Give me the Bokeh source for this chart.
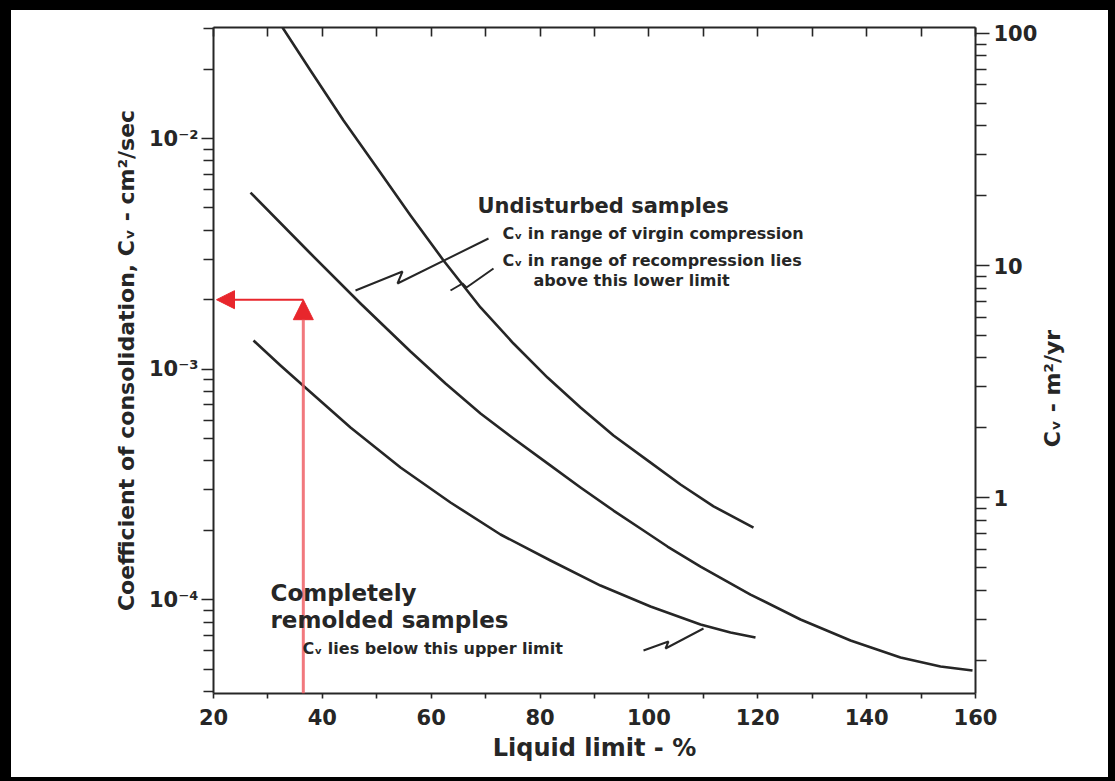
import math
from bokeh.plotting import figure
from bokeh.models import (LogAxis, LinearAxis, Range1d, FixedTicker, Label,
                          Arrow, NormalHead, LogScale)
from bokeh.embed import file_html
from bokeh.resources import INLINE

# ---------------- data ----------------
# Undisturbed samples: Cv in range of virgin compression
virgin_ll = [32.68, 37.82, 43.89, 50.13, 56.20, 62.26, 69.06, 75.12, 81.37, 87.43,
             93.49, 99.74, 105.80, 111.87, 119.21]
virgin_cv = [3.03e-2, 1.972e-2, 1.197e-2, 7.41e-3, 4.64e-3, 2.96e-3, 1.851e-3, 1.291e-3,
             9.19e-4, 6.82e-4, 5.15e-4, 4.02e-4, 3.16e-4, 2.54e-4, 2.056e-4]

# Undisturbed samples: Cv in range of recompression lies above this lower limit
recomp_ll = [26.80, 37.82, 47.01, 56.20, 62.63, 69.06, 75.12, 81.37, 87.43, 93.49,
             98.45, 103.41, 109.48, 118.66, 127.85, 137.04, 146.22, 153.57, 159.45]
recomp_cv = [5.83e-3, 3.172e-3, 1.925e-3, 1.192e-3, 8.66e-4, 6.42e-4, 5.00e-4, 3.90e-4,
             3.066e-4, 2.436e-4, 2.036e-4, 1.701e-4, 1.393e-4, 1.053e-4, 8.21e-5,
             6.65e-5, 5.62e-5, 5.13e-5, 4.93e-5]

# Completely remolded samples: Cv lies below this upper limit
remold_ll = [27.35, 32.31, 37.27, 45.17, 54.36, 63.54, 72.73, 81.92, 91.10, 100.29,
             109.48, 114.99, 119.58]
remold_cv = [1.330e-3, 1.037e-3, 8.16e-4, 5.58e-4, 3.745e-4, 2.640e-4, 1.918e-4, 1.479e-4,
             1.152e-4, 9.35e-5, 7.81e-5, 7.21e-5, 6.86e-5]

# worked example (red arrows)
example_ll = 36.5
example_cv = 2.0e-3

# axes
x_min, x_max = 20, 160
x_major = [20, 40, 60, 80, 100, 120, 140, 160]
x_minor = [30, 50, 70, 90, 110, 130, 150]
cv_min, cv_max = 3.92e-5, 3.03e-2          # cm^2/sec
y_major = [1e-4, 1e-3, 1e-2]
y_labels = ["10\u207b\u2074", "10\u207b\u00b3", "10\u207b\u00b2"]
y_minor = [m * 10.0 ** e for e in (-5, -4, -3, -2) for m in range(2, 10)]
r_min, r_max = 0.1436, 106.0               # m^2/yr
r_major = [1, 10, 100]
r_labels = ["1", "10", "100"]
r_minor = [m * 10.0 ** e for e in (-1, 0, 1) for m in range(2, 10)]

# ---------------- layout ----------------
W, H = 1115, 781
BL, BR, BT, BB = 11, 7, 10, 4             # black picture frame (css border)
FL, FR, FT, FB = 213, 975, 27, 693        # plot frame in page pixels
INK = "#262626"
RED = "#e8262c"
FONT = "DejaVu Sans"


def dx(px):
    return x_min + (px - FL) * (x_max - x_min) / (FR - FL)


def dy(py):
    lo, hi = math.log10(cv_min), math.log10(cv_max)
    return 10 ** (hi - (py - FT) * (hi - lo) / (FB - FT))


p = figure(frame_width=FR - FL, frame_height=FB - FT,
           min_border_left=FL - BL, min_border_right=W - BR - FR,
           min_border_top=FT - BT, min_border_bottom=H - BB - FB,
           x_range=Range1d(x_min, x_max), y_range=Range1d(cv_min, cv_max),
           y_axis_type="log", x_axis_location=None, y_axis_location=None,
           output_backend="svg", toolbar_location=None)
p.styles = {"border-style": "solid", "border-color": "black",
            "border-width": f"{BT}px {BR}px {BB}px {BL}px"}
p.outline_line_color = None
p.background_fill_color = "white"
p.border_fill_color = "white"
p.grid.visible = False
p.extra_y_ranges = {"m2yr": Range1d(r_min, r_max)}
p.extra_y_scales = {"m2yr": LogScale()}


def style_axis(ax, size="21px"):
    ax.axis_line_color = INK
    ax.axis_line_width = 2
    ax.major_tick_line_color = INK
    ax.minor_tick_line_color = INK
    ax.major_tick_line_width = 1.6
    ax.minor_tick_line_width = 1.6
    ax.major_label_text_font = FONT
    ax.major_label_text_font_style = "bold"
    ax.major_label_text_font_size = size
    ax.major_label_text_color = INK
    ax.axis_label_text_font = FONT
    ax.axis_label_text_font_style = "bold"
    ax.axis_label_text_font_size = "22px"
    ax.axis_label_text_color = INK


left = LogAxis(ticker=FixedTicker(ticks=y_major, minor_ticks=y_minor),
               major_label_overrides=dict(zip(y_major, y_labels)),
               axis_label="Coefficient of consolidation, C\u1d65 - cm\u00b2/sec")
style_axis(left)
left.major_tick_in = 0
left.major_tick_out = 12
left.minor_tick_in = 0
left.minor_tick_out = 10
left.major_label_standoff = 3
left.axis_label_standoff = 7
p.add_layout(left, "left")

right = LogAxis(y_range_name="m2yr", ticker=FixedTicker(ticks=r_major, minor_ticks=r_minor),
                major_label_overrides=dict(zip(r_major, r_labels)))
style_axis(right)
right.major_tick_in = 0
right.major_tick_out = 14
right.minor_tick_in = 0
right.minor_tick_out = 11
right.major_label_standoff = 4
p.add_layout(right, "right")

# right-hand axis title, placed in its own side panel so that it is not clipped
p.add_layout(Label(x=12, y=FB - 388, x_units="screen", y_units="screen",
                   text="C\u1d65 - m\u00b2/yr", angle=math.pi / 2,
                   text_font=FONT, text_font_style="bold", text_font_size="22px",
                   text_color=INK, text_align="center", text_baseline="middle"), "right")

bottom = LinearAxis(ticker=FixedTicker(ticks=x_major, minor_ticks=x_minor),
                    axis_label="Liquid limit - %")
style_axis(bottom)
bottom.axis_label_text_font_size = "24px"
bottom.major_tick_in = 0
bottom.major_tick_out = 5
bottom.minor_tick_in = 0
bottom.minor_tick_out = 5
bottom.major_label_standoff = 10
bottom.axis_label_standoff = 6
p.add_layout(bottom, "below")

top = LinearAxis(ticker=FixedTicker(ticks=x_major + x_minor))
style_axis(top)
top.major_tick_in = 9
top.major_tick_out = 0
top.major_label_text_font_size = "0px"
top.major_label_text_color = None
p.add_layout(top, "above")

# curves
for xs, ys in ((virgin_ll, virgin_cv), (recomp_ll, recomp_cv), (remold_ll, remold_cv)):
    p.line(xs, ys, line_color=INK, line_width=2.6, line_join="round")

# leader lines (annotation pointers)
leaders = [
    ([dx(355), dx(402), dx(397), dx(488)], [dy(290), dy(271), dy(283), dy(238)]),
    ([dx(450), dx(462), dx(466), dx(493)], [dy(290), dy(283), dy(287), dy(268)]),
    ([dx(643), dx(668), dx(665), dx(703)], [dy(650), dy(641), dy(648), dy(628)]),
]
for xs, ys in leaders:
    p.line(xs, ys, line_color=INK, line_width=2)

# red example arrows
p.add_layout(Arrow(end=NormalHead(size=20, fill_color=RED, line_color=RED),
                   x_start=example_ll, y_start=cv_min, x_end=example_ll, y_end=example_cv,
                   line_color="#ee6066", line_width=3, line_alpha=0.85))
p.add_layout(Arrow(end=NormalHead(size=18, fill_color=RED, line_color=RED),
                   x_start=example_ll, y_start=example_cv, x_end=dx(216), y_end=example_cv,
                   line_color=RED, line_width=2))


def label(px, py, text, size):
    p.add_layout(Label(x=dx(px), y=dy(py), text=text, text_font=FONT,
                       text_font_size=size, text_font_style="bold",
                       text_color=INK, text_align="left", text_baseline="middle"))


label(477, 205, "Undisturbed samples", "21px")
label(502, 233, "C\u1d65 in range of virgin compression", "16px")
label(502, 260, "C\u1d65 in range of recompression lies", "16px")
label(533, 280, "above this lower limit", "16px")
label(270, 592, "Completely", "23px")
label(270, 619, "remolded samples", "23px")
label(302, 648, "C\u1d65 lies below this upper limit", "16px")

open("out.html", "w").write(file_html(p, INLINE))
